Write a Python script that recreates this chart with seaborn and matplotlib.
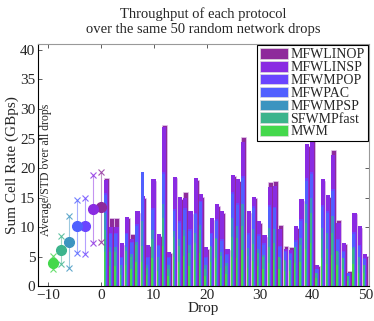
import matplotlib
matplotlib.use("Agg")
import matplotlib.pyplot as plt
import seaborn as sns
import numpy as np
from matplotlib.patches import Patch

protocols = ["MFWLINOP", "MFWLINSP", "MFWMPOP", "MFWPAC", "MFWMPSP", "SFWMPfast", "MWM"]
colors = ["#8e2a9b", "#8a2be2", "#6a44ff", "#5060ff", "#3c94c0", "#3cb48c", "#44d84c"]

drops = np.arange(1, 51)

mfwlinop = [18.3, 11.5, 11.5, 7.0, 11.5, 8.8, 12.4, 15.0, 6.8, 17.8,
            8.5, 27.3, 5.6, 18.3, 14.8, 15.9, 12.3, 18.0, 15.2, 6.4,
            11.2, 13.6, 12.4, 6.1, 18.6, 17.9, 25.3, 12.5, 14.9, 10.7,
            8.4, 17.6, 17.8, 10.4, 6.9, 6.7, 9.9, 14.5, 23.8, 26.2,
            3.4, 17.8, 15.1, 23.0, 11.3, 7.1, 2.6, 12.2, 9.9, 5.2]
mfwlinsp = [18.0, 10.0, 10.0, 7.3, 11.8, 8.0, 12.7, 15.3, 7.0, 18.1,
            8.8, 26.9, 5.9, 18.5, 15.1, 14.9, 12.7, 18.3, 15.6, 6.6,
            11.5, 13.9, 12.7, 6.4, 18.9, 18.2, 24.5, 12.8, 15.2, 11.0,
            8.7, 16.9, 17.0, 9.8, 6.3, 6.1, 10.2, 14.8, 24.1, 25.3,
            3.6, 18.1, 15.4, 22.3, 10.7, 7.4, 2.3, 12.5, 10.2, 5.5]
mfwmpop = [15.8, 9.1, 9.1, 5.0, 9.1, 7.6, 10.6, 14.5, 5.0, 13.2,
           7.0, 19.4, 5.0, 13.1, 11.1, 13.2, 9.7, 12.5, 14.5, 5.0,
           9.1, 11.4, 8.0, 5.5, 16.0, 14.1, 18.7, 9.0, 13.6, 8.8,
           7.3, 13.8, 13.5, 6.8, 6.0, 5.7, 7.9, 11.4, 18.3, 19.4,
           3.0, 13.8, 12.7, 16.5, 8.1, 6.0, 2.3, 9.2, 7.0, 4.8]
mfwpac = [15.5, 8.8, 8.9, 4.8, 8.8, 7.3, 10.3, 19.3, 4.8, 12.9,
          6.8, 19.0, 4.8, 12.8, 10.8, 12.9, 9.4, 12.2, 14.2, 4.8,
          8.8, 11.1, 7.7, 5.3, 15.7, 13.8, 18.3, 8.7, 13.3, 8.5,
          7.0, 13.5, 13.2, 6.6, 5.8, 5.5, 7.6, 11.1, 17.9, 19.0,
          2.9, 13.5, 12.4, 16.2, 7.9, 5.8, 2.2, 8.9, 6.8, 4.6]
mfwmpsp = [12.5, 6.6, 6.6, 3.6, 6.6, 5.5, 7.6, 11.0, 3.6, 9.5,
           5.0, 14.0, 3.6, 9.4, 8.0, 9.5, 7.0, 9.0, 10.4, 3.6,
           6.6, 8.2, 5.8, 4.0, 11.5, 10.2, 14.0, 6.5, 9.8, 6.3,
           5.3, 9.9, 9.7, 4.9, 4.3, 4.1, 5.7, 8.2, 14.0, 15.0,
           2.2, 9.9, 9.1, 11.9, 5.8, 4.3, 1.7, 6.6, 5.0, 3.5]
sfwmpfast = [9.6, 5.9, 5.9, 3.1, 6.0, 5.0, 7.0, 6.8, 3.1, 8.0,
             4.5, 11.5, 3.0, 8.3, 6.8, 8.6, 5.7, 7.4, 9.5, 3.0,
             6.8, 8.0, 5.2, 3.5, 8.3, 8.2, 10.2, 5.2, 7.2, 5.7,
             5.0, 6.7, 7.4, 5.0, 4.5, 4.5, 6.7, 7.0, 10.7, 12.4,
             2.3, 8.0, 6.3, 9.0, 6.0, 4.8, 1.7, 6.4, 3.7, 3.7]
mwm = [5.8, 3.5, 3.5, 1.9, 3.6, 3.0, 4.2, 4.1, 1.9, 4.8,
       2.7, 6.9, 1.8, 5.0, 4.1, 5.2, 3.4, 4.4, 5.7, 1.8,
       4.1, 4.8, 3.1, 2.1, 5.0, 4.9, 6.1, 3.1, 4.3, 3.4,
       3.0, 4.0, 4.4, 3.0, 2.7, 2.7, 4.0, 4.2, 6.4, 7.4,
       1.4, 4.8, 3.8, 5.4, 3.6, 2.9, 1.0, 3.8, 2.2, 2.2]

series = [mfwlinop, mfwlinsp, mfwmpop, mfwpac, mfwmpsp, sfwmpfast, mwm]

# average / std summary on the left side
avg_x = [0, -1.5, -3, -4.5, -6, -7.5, -9]
avg_mean = [13.4, 13.1, 10.2, 10.2, 7.5, 6.2, 3.9]
avg_high = [19.3, 18.9, 14.9, 14.6, 11.9, 8.5, 5.1]
avg_low = [7.5, 7.3, 5.5, 5.6, 3.2, 3.8, 2.9]

widths = [0.92, 0.8, 0.65, 0.55, 0.45, 0.35, 0.25]

sns.set_theme(style="ticks")
plt.rcParams["font.family"] = ["Liberation Serif", "DejaVu Serif"]

fig, ax = plt.subplots(figsize=(3.74, 3.21), dpi=100)
fig.subplots_adjust(left=0.1016, right=0.9866, bottom=0.1075, top=0.863)

for i, (vals, c, w) in enumerate(zip(series, colors, widths)):
    xs = drops - 0.46 + w / 2
    sns.barplot(x=xs, y=vals, native_scale=True, width=w, color=c,
                saturation=1, errorbar=None,
                edgecolor="#e4c8ee" if i == 0 else c,
                linewidth=0.5 if i == 0 else 0, ax=ax)

for x, m, lo, hi, c in zip(avg_x, avg_mean, avg_low, avg_high, colors):
    ax.plot([x, x], [lo, hi], color=c, lw=0.8, alpha=0.5, zorder=3)
    ax.plot([x, x], [lo, hi], ls="none", marker="x", ms=5, mew=0.8,
            color=c, alpha=0.8, zorder=4)
    ax.plot(x, m, marker="o", ms=7, color=c, mec=c, zorder=5)

ax.set_xlim(-11.9, 50.7)
ax.set_ylim(0, 41)
ax.set_xticks([-10, 0, 10, 20, 30, 40, 50])
ax.set_yticks([0, 5, 10, 15, 20, 25, 30, 35, 40])
ax.tick_params(direction="in", length=3, width=0.6, top=True, right=True,
               labelsize=11, pad=2, color="#444444")
for side in ["top", "right"]:
    ax.spines[side].set_color("#999999")
for side in ["left", "bottom"]:
    ax.spines[side].set_color("black")
for s in ax.spines.values():
    s.set_linewidth(0.8)

ax.set_title("Throughput of each protocol\nover the same 50 random network drops",
             fontsize=10.5, pad=8)
ax.set_xlabel("Drop", fontsize=11, labelpad=0)
ax.set_ylabel("Sum Cell Rate (GBps)", fontsize=11, labelpad=1)
ax.text(-10.3, 8.5, "Average/STD over all drops", rotation=90, fontsize=8.5,
        ha="center", va="bottom")

handles = [Patch(facecolor=c, edgecolor="#dddddd", linewidth=0.5) for c in colors]
leg = ax.legend(handles, protocols, loc="upper right", fontsize=10,
                frameon=True, fancybox=False, framealpha=1, edgecolor="black",
                labelspacing=-0.02, handlelength=2.0, handleheight=0.8,
                handletextpad=0.2, borderpad=0.2, borderaxespad=0.1)
leg.get_frame().set_linewidth(0.8)

plt.savefig("out.png", dpi=100)
plt.close()
